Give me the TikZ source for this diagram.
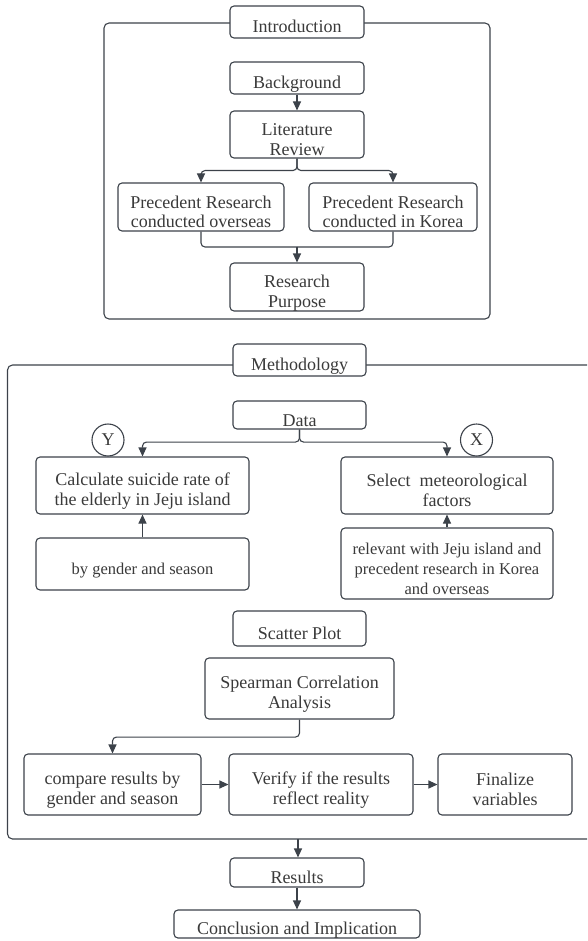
\documentclass[tikz,border=0pt]{standalone}
\usepackage{fontspec}
\setmainfont{Liberation Serif}
\usetikzlibrary{arrows.meta}
\definecolor{ln}{HTML}{3C424A}
\definecolor{tx}{HTML}{3A3A3A}
\newcommand\fst{\rule{0pt}{24pt}}
\newcommand\lst{\rule[-2pt]{0pt}{2pt}}
\tikzset{
  box/.style={draw=ln, line width=1.1pt, rounded corners=4pt, fill=white, inner sep=0pt,
    align=center, text=tx, font=\fontsize{18}{20}\selectfont},
  smallbox/.style={box, font=\fontsize{16.5}{20}\selectfont},
  frame/.style={draw=ln, line width=1.1pt, rounded corners=5pt},
  conn/.style={draw=ln, line width=1.1pt, rounded corners=4pt, -{Triangle[length=9pt,width=8pt]}},
  plain/.style={draw=ln, line width=1.1pt, rounded corners=4pt},
  lbl/.style={draw=ln, line width=1.1pt, circle, minimum size=32pt, inner sep=0pt, fill=white, text=tx, font=\fontsize{18}{20}\selectfont}
}
\begin{document}
\begin{tikzpicture}[x=1pt,y=-1pt]
\useasboundingbox (0,0) rectangle (587,941);
\clip (0,0) rectangle (587,941);
% Introduction frame
\draw[frame] (104,23) rectangle (490,319);
\node[box, minimum width=134pt, minimum height=32pt] (intro) at (297,22) {\fst Introduction\lst};
\node[box, minimum width=134pt, minimum height=32pt] (bg) at (297,78) {\fst Background\lst};
\node[box, minimum width=134pt, minimum height=47pt] (lit) at (297,134.5) {\fst Literature\\Review\lst};
\node[box, minimum width=166pt, minimum height=48pt] (over) at (201,207) {\fst Precedent Research\\conducted overseas\lst};
\node[box, minimum width=168pt, minimum height=48pt] (korea) at (393,207) {\fst Precedent Research\\conducted in Korea\lst};
\node[box, minimum width=134pt, minimum height=48pt] (purpose) at (297,287) {\fst Research\\Purpose\lst};
\draw[conn] (bg.south) -- (lit.north);
\draw[conn] (lit.south) -- ++(0,12) -| (over.north);
\draw[conn] (lit.south) -- ++(0,12) -| (korea.north);
\coordinate (merge) at (297,247);
\draw[plain] (over.south) |- (merge);
\draw[plain] (korea.south) |- (merge);
\draw[conn] (merge) -- (purpose.north);
% Methodology frame
\draw[frame] (7.5,365) rectangle (610,839);
\node[box, minimum width=133pt, minimum height=32pt] (meth) at (299.5,360) {\fst Methodology\lst};
\node[box, minimum width=133pt, minimum height=28pt] (data) at (299.5,415) {\fst Data\lst};
\node[box, minimum width=213pt, minimum height=57pt] (calc) at (142.5,485.5) {\fst Calculate suicide rate of\\the elderly in Jeju island\lst};
\node[box, minimum width=212pt, minimum height=57pt] (select) at (447,485.5) {\fst Select\ \ meteorological\\factors\lst};
\node[lbl] (ylbl) at (108,440) {Y};
\node[lbl] (xlbl) at (476.5,440) {X};
\node[smallbox, minimum width=213pt, minimum height=52pt] (gender) at (142.5,564) {\fst by gender and season\lst};
\node[smallbox, minimum width=212pt, minimum height=71pt] (relev) at (447,563.5) {\fst relevant with Jeju island and\\precedent research in Korea\\and overseas\lst};
\draw[conn] (data.south) -- ++(0,12.5) -| (calc.north);
\draw[conn] (data.south) -- ++(0,12.5) -| (select.north);
\draw[conn] (gender.north) -- (calc.south);
\draw[conn] (relev.north) -- (select.south);
\node[box, minimum width=133pt, minimum height=35pt] (scatter) at (299.5,628.5) {\fst Scatter Plot\lst};
\node[box, minimum width=189pt, minimum height=61pt] (spear) at (299.5,688.5) {\fst Spearman Correlation\\Analysis\lst};
\node[box, minimum width=177pt, minimum height=61pt] (comp) at (112.5,784.5) {\fst compare results by\\gender and season\lst};
\node[box, minimum width=184pt, minimum height=61pt] (verify) at (321,784.5) {\fst Verify if the results\\reflect reality\lst};
\node[box, minimum width=134pt, minimum height=61pt] (final) at (505,784.5) {\fst Finalize\\variables\lst};
\draw[conn] (spear.south) -- ++(0,17.5) -| (comp.north);
\draw[conn] (comp.east) -- (verify.west);
\draw[conn] (verify.east) -- (final.west);
% Results
\coordinate (mbot) at (298,839);
\node[box, minimum width=134pt, minimum height=29pt] (res) at (297,872.5) {\fst Results\lst};
\node[box, minimum width=246pt, minimum height=28pt] (concl) at (297,924) {\fst Conclusion and Implication\lst};
\draw[conn] (mbot) -- (mbot |- res.north);
\draw[conn] (res.south) -- (concl.north);
\end{tikzpicture}
\end{document}
